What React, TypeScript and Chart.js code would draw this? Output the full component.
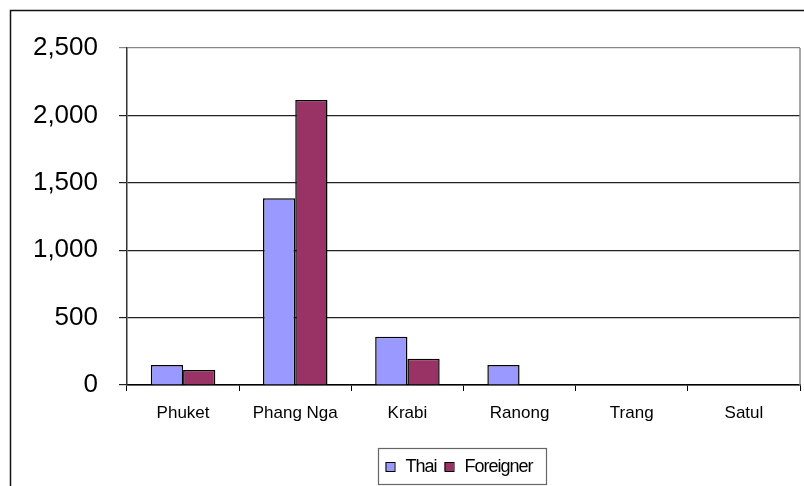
import React, { useEffect, useRef } from "react";
import { Chart, registerables } from "chart.js";

Chart.register(...registerables);

const categories = ["Phuket", "Phang Nga", "Krabi", "Ranong", "Trang", "Satul"];
const thaiValues = [148, 1385, 358, 148, 0, 0];
const foreignerValues = [111, 2114, 195, 0, 0, 0];
const seriesNames = ["Thai", "Foreigner"];
const seriesColors = ["#9999FF", "#993366"];
const yTickMax = 2500;
const yTickStep = 500;

const framePlugin = {
  id: "framePlugin",
  afterDraw(chart: any) {
    const ctx = chart.ctx;
    const area = chart.chartArea;
    ctx.save();
    // outer frame
    ctx.strokeStyle = "#111";
    ctx.lineWidth = 1.5;
    ctx.beginPath();
    ctx.moveTo(10.5, 490);
    ctx.lineTo(10.5, 10.5);
    ctx.lineTo(810, 10.5);
    ctx.stroke();
    // plot area right border
    ctx.strokeStyle = "#888";
    ctx.lineWidth = 1.5;
    ctx.beginPath();
    ctx.moveTo(area.right, area.top);
    ctx.lineTo(area.right, area.bottom);
    ctx.stroke();
    // legend
    const lx = 378.5, ly = 448.5, lw = 168, lh = 36;
    ctx.fillStyle = "#fff";
    ctx.fillRect(lx, ly, lw, lh);
    ctx.strokeStyle = "#666";
    ctx.lineWidth = 1.2;
    ctx.strokeRect(lx, ly, lw, lh);
    ctx.font = "18px 'Liberation Sans', Arial, sans-serif";
    ctx.textBaseline = "middle";
    const cy = ly + lh / 2;
    let x = lx + 7;
    chart.data.datasets.forEach((ds: any) => {
      ctx.fillStyle = ds.backgroundColor;
      ctx.fillRect(x, cy - 4.5, 9, 9);
      ctx.strokeStyle = "#000";
      ctx.lineWidth = 1;
      ctx.strokeRect(x + 0.5, cy - 4, 9, 9);
      ctx.fillStyle = "#000";
      ctx.save();
      (ctx as any).letterSpacing = "-1px";
      ctx.fillText(ds.label, x + 20, cy + 1);
      const w = ctx.measureText(ds.label).width;
      ctx.restore();
      x += 20 + w + 8;
    });
    ctx.restore();
  },
};

export default function App() {
  const ref = useRef<HTMLCanvasElement>(null);
  useEffect(() => {
    if (!ref.current) return;
    const chart = new Chart(ref.current, {
      type: "bar",
      data: {
        labels: categories,
        datasets: [
          {
            label: seriesNames[0],
            data: thaiValues,
            backgroundColor: seriesColors[0],
            borderColor: "#000",
            borderWidth: 1.5,
            categoryPercentage: 0.575,
            barPercentage: 1,
          },
          {
            label: seriesNames[1],
            data: foreignerValues,
            backgroundColor: seriesColors[1],
            borderColor: "#000",
            borderWidth: 1.5,
            categoryPercentage: 0.575,
            barPercentage: 1,
          },
        ],
      },
      options: {
        responsive: false,
        animation: false,
        devicePixelRatio: 1,
        layout: { padding: { left: 10, top: 48, right: 4, bottom: 61 } },
        plugins: { legend: { display: false }, tooltip: { enabled: false } },
        scales: {
          x: {
            grid: {
              offset: true,
              drawOnChartArea: false,
              tickLength: 6,
              color: "#000",
            },
            border: { color: "#000", width: 1.5 },
            ticks: {
              color: "#000",
              padding: 12,
              maxRotation: 0,
              font: { family: "'Liberation Sans', Arial, sans-serif", size: 17 },
            },
            afterFit(scale: any) {
              scale.height = 40;
            },
          },
          y: {
            min: 0,
            max: yTickMax,
            grid: {
              color: (c: any) => (c.tick && c.tick.value === yTickMax ? "#888" : "#222"),
              lineWidth: 1.2,
              tickLength: 8,
            },
            border: { color: "#333", width: 1.5 },
            ticks: {
              stepSize: yTickStep,
              color: "#000",
              padding: 21,
              font: { family: "'Liberation Sans', Arial, sans-serif", size: 26 },
              callback: (v: any) => Number(v).toLocaleString("en-US"),
            },
            afterFit(scale: any) {
              scale.width = 117;
            },
          },
        },
      },
      plugins: [framePlugin],
    });
    return () => chart.destroy();
  }, []);
  return (
    <div style={{ position: "fixed", left: 0, top: 0, width: 804, height: 486, background: "#fff" }}>
      <canvas ref={ref} width={804} height={486} style={{ display: "block" }} />
    </div>
  );
}
